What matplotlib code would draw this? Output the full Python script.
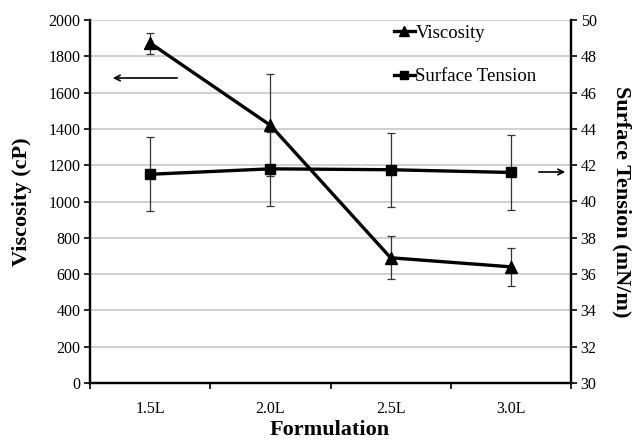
import matplotlib
matplotlib.use("Agg")
import matplotlib.pyplot as plt
from matplotlib.lines import Line2D
import numpy as np

categories = ["1.5L", "2.0L", "2.5L", "3.0L"]
viscosity = [1873, 1420, 690, 640]
viscosity_err = [58, 282, 118, 105]
surface_tension = [41.5, 41.8, 41.75, 41.6]
surface_tension_err = [2.05, 2.05, 2.05, 2.05]

plt.rcParams['font.family'] = ['Liberation Serif', 'DejaVu Serif']

fig = plt.figure(figsize=(6.34, 4.4), dpi=100)
ax1 = fig.add_axes([90/634, 1-383/440, (571-90)/634, (383-20)/440])
ax2 = ax1.twinx()

x = np.arange(len(categories))

ax1.errorbar(x, viscosity, yerr=viscosity_err, color='black', lw=2.4,
             marker='^', ms=8, ecolor='#333333', elinewidth=0.9, capsize=3,
             capthick=0.9, zorder=3)
ax2.errorbar(x, surface_tension, yerr=surface_tension_err, color='black', lw=2.4,
             marker='s', ms=7, ecolor='#333333', elinewidth=0.9, capsize=3,
             capthick=0.9, zorder=3)

ax1.set_xlim(-0.5, 3.5)
ax1.set_ylim(0, 2000)
ax2.set_ylim(30, 50)
ax1.set_yticks(np.arange(0, 2001, 200))
ax2.set_yticks(np.arange(30, 51, 2))

ax1.set_xticks(np.arange(-0.5, 3.6, 1.0))
ax1.set_xticklabels([])
ax1.set_xticks(x, minor=True)
ax1.set_xticklabels(categories, minor=True)
ax1.tick_params(axis='x', which='minor', length=0, pad=13, labelsize=11.5)
ax1.tick_params(axis='x', which='major', length=4, width=1.2, direction='out')
ax1.tick_params(axis='y', length=4, width=1.2, direction='out', labelsize=11.5, pad=3)
ax2.tick_params(axis='y', length=4, width=1.2, direction='out', labelsize=11.5, pad=3)

ax1.grid(axis='y', color='#c8c8c8', lw=1.2)
ax1.set_axisbelow(True)

for ax in (ax1, ax2):
    ax.spines['top'].set_visible(False)
    for s in ('left', 'right', 'bottom'):
        ax.spines[s].set_linewidth(1.6)
    ax.set_facecolor('none')

fig.text(22/634, 1-202/440, "Viscosity (cP)", fontsize=16, fontweight='bold',
         rotation=90, ha='center', va='center')
fig.text(622/634, 1-202/440, "Surface Tension (mN/m)", fontsize=16, fontweight='bold',
         rotation=270, ha='center', va='center')
fig.text(330/634, 1-430/440, "Formulation", fontsize=16, fontweight='bold',
         ha='center', va='center')

handles = [Line2D([], [], color='black', lw=2.4, marker='^', ms=7),
           Line2D([], [], color='black', lw=2.4, marker='s', ms=6)]
leg = fig.legend(handles, ["Viscosity", "Surface Tension"], loc='upper left',
                 bbox_to_anchor=(377/634, 1-8/440), frameon=False,
                 fontsize=13.5, handlelength=1.1, handletextpad=0.05,
                 labelspacing=1.4)

# arrows
ax1.annotate("", xy=(110/634, 1-78/440), xytext=(180/634, 1-78/440),
             xycoords='figure fraction', textcoords='figure fraction',
             arrowprops=dict(arrowstyle='->', color='black', lw=1.2))
ax1.annotate("", xy=(568/634, 1-172/440), xytext=(536/634, 1-172/440),
             xycoords='figure fraction', textcoords='figure fraction',
             arrowprops=dict(arrowstyle='->', color='black', lw=1.2))

fig.savefig("out.png", dpi=100)
